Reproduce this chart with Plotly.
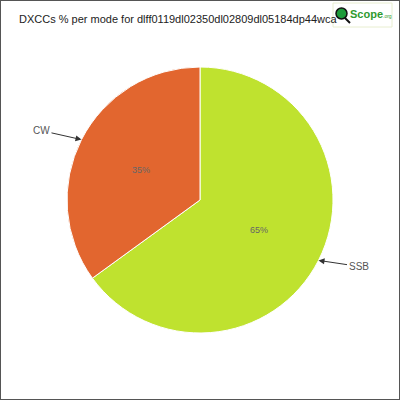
import math
import plotly.graph_objects as go

title_text = 'DXCCs % per mode for dlff0119dl02350dl02809dl05184dp44wca'
modes = ['SSB', 'CW']
shares = [65, 35]
colours = ['#BFE22F', '#E2662F']

W, H = 400, 400
cx, cy, r = 200, 200, 133

fig = go.Figure(go.Pie(
    labels=modes, values=shares, sort=False, direction='clockwise', rotation=0,
    marker=dict(colors=colours, line=dict(color='white', width=1)),
    textinfo='none', hoverinfo='label+percent', showlegend=False,
    domain=dict(x=[(cx - r) / W, (cx + r) / W], y=[(cy - r) / H, (cy + r) / H]),
))

font = 'Liberation Sans, Arial, sans-serif'
total = sum(shares)
start = 0.0
for name, v in zip(modes, shares):
    mid = math.radians((start + v / 2) / total * 360)
    start += v
    sx, sy = math.sin(mid), math.cos(mid)
    # percent label at half radius
    fig.add_annotation(x=(cx + 0.5 * r * sx) / W, y=(H - cy + 0.5 * r * sy) / H,
                       xref='paper', yref='paper', showarrow=False,
                       text='%d%%' % round(100 * v / total),
                       font=dict(family=font, size=9, color='#666'))
    # outside label with arrow to the edge
    side = 1 if sx > 0 else -1
    fig.add_annotation(x=(cx + r * sx) / W, y=(H - cy + r * sy) / H,
                       xref='paper', yref='paper', showarrow=True,
                       ax=side * 40, ay=6 if sy < 0 else -9,
                       arrowhead=2, arrowsize=1.2, arrowwidth=1, arrowcolor='#333',
                       text=name, font=dict(family=font, size=10, color='#555'))

fig.add_annotation(x=17 / W, y=1 - 19 / H, xref='paper', yref='paper',
                   xanchor='left', yanchor='middle', showarrow=False,
                   text=title_text, font=dict(family=font, size=11, color='#222'))
# logo box over the end of the title
fig.add_shape(type='rect', xref='paper', yref='paper',
              x0=333 / W, x1=392 / W, y0=1 - 27 / H, y1=1 - 3 / H,
              fillcolor='white', line=dict(color='#e8eed0', width=1))
fig.add_shape(type='circle', xref='paper', yref='paper',
              x0=336 / W, x1=347 / W, y0=1 - 19 / H, y1=1 - 8 / H,
              fillcolor='#1e9b3a', line=dict(color='#111', width=1.5))
fig.add_shape(type='line', xref='paper', yref='paper',
              x0=345 / W, x1=350 / W, y0=1 - 18 / H, y1=1 - 23 / H,
              line=dict(color='#111', width=2))
fig.add_annotation(x=348 / W, y=1 - 14 / H, xref='paper', yref='paper',
                   xanchor='left', yanchor='middle', showarrow=False,
                   text="<b>Scope</b><span style='font-size:5px'>.org</span>",
                   font=dict(family=font, size=11, color='#2f9a2f'))
# outer frame
fig.add_shape(type='rect', xref='paper', yref='paper', x0=0, x1=1, y0=0, y1=1,
              line=dict(color='#555', width=2))

fig.update_layout(width=W, height=H, margin=dict(l=0, r=0, t=0, b=0),
                  paper_bgcolor='white', plot_bgcolor='white')
fig.write_html('out.html', config={'displayModeBar': False},
               post_script="document.body.style.margin='0';document.body.style.overflow='hidden';")
